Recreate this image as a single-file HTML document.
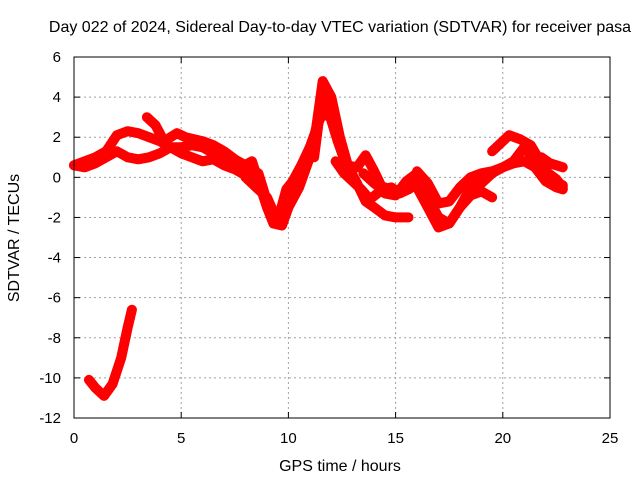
<!DOCTYPE html>
<html><head><meta charset="utf-8"><style>
body{margin:0;background:#fff}
svg{display:block;font-family:"Liberation Sans",sans-serif}
</style></head><body>
<svg id="chart" width="640" height="480">
<text x="340" y="32" text-anchor="middle" font-size="16">Day 022 of 2024, Sidereal Day-to-day VTEC variation (SDTVAR) for receiver pasa</text>
<text x="340" y="471" text-anchor="middle" font-size="16">GPS time / hours</text>
<text transform="translate(19,238) rotate(-90)" text-anchor="middle" font-size="16">SDTVAR / TECUs</text>
<g id="grid"></g><g id="series"></g><g id="axes"></g>
</svg>
<script>
const xTicks=[0,5,10,15,20,25];
const yTicks=[6,4,2,0,-2,-4,-6,-8,-10,-12];
const s1h=[0,0.5,1,1.5,2,2.5,3,3.5,4,4.5,5,5.5,6,6.5,7,7.5,8];
const s1v=[0.6,0.5,0.7,1.0,1.3,1.0,0.9,1.0,1.2,1.5,1.2,1.0,0.8,0.9,0.6,0.4,0.1];
const s2h=[0,0.5,1,1.5,2,2.5,3,3.5,4,4.5,5,5.5,6,6.5,7,7.5];
const s2v=[0.6,0.8,1.0,1.3,2.1,2.3,2.2,2.0,1.8,1.5,1.5,1.6,1.5,1.2,0.8,0.5];
const s3h=[3.4,3.8,4.2,4.8,5.2,6,6.5,7,7.5,8,8.4];
const s3v=[3.0,2.6,1.8,2.2,2.0,1.8,1.6,1.3,0.9,0.6,0.2];
const s4h=[7.8,8.3,8.7,9,9.3,9.7,10,10.5,11,11.3,11.6,12,12.4,12.8,13.2,13.6,14,14.5,15,15.6];
const s4v=[0.5,0.8,-0.5,-1.5,-2.3,-2.4,-1.5,-0.5,1,2.5,4.8,4,2,0.5,-0.3,-1.2,-1.5,-1.9,-2.0,-2.0];
const s5h=[8,8.5,9,9.5,10,10.5,11,11.5,11.9,12.3,12.7,13.2,13.6,14,14.5,15,15.5,16,16.5,17,17.5,18,18.5,19,19.5,20,20.5,21,21.5,22,22.5,22.8];
const s5v=[0,-0.5,-1,-2.2,-1,0,1.5,3,3.2,1.8,0.6,0.5,1.1,0.3,-0.8,-0.9,-0.2,0.2,-1,-2.0,-2.3,-1.5,-0.5,-0.3,0.2,0.5,0.8,1.5,0.8,0.3,-0.1,-0.5];
const s6h=[12.2,12.6,13,13.4,13.8,14.5,15,15.6,16,16.5,17,17.5,18,18.5,19,19.5];
const s6v=[0.8,0.2,-0.2,-0.6,-1.1,-0.5,-0.8,-0.3,-0.5,-1.5,-2.5,-2.3,-1.5,-0.9,-0.7,-1.0];
const s7h=[16,16.5,17,17.5,18,18.5,19,19.5,20,20.5,21,21.5,22,22.5,22.8];
const s7v=[0.3,-0.3,-1.3,-1.2,-0.5,0,0.2,0.3,0.5,0.7,0.8,0.5,-0.2,-0.5,-0.6];
const s8h=[19.5,20,20.3,20.8,21.3,21.8,22.3,22.8];
const s8v=[1.3,1.8,2.1,1.9,1.6,0.7,-0.1,-0.4];
const s9h=[21.8,22.2,22.5,22.8];
const s9v=[1.0,0.7,0.6,0.5];
const s10h=[0.7,1,1.4,1.8,2.2,2.5,2.7];
const s10v=[-10.1,-10.5,-10.9,-10.3,-9.0,-7.5,-6.6];
const s11h=[8.6,9,9.3,9.6,9.9,10.2,10.6,11];
const s11v=[0.2,-1.2,-2.0,-1.8,-0.6,-0.2,0.6,1.5];
const s12h=[11.2,11.5,11.8,12.1];
const s12v=[1.0,3.5,4.2,2.8];
const s13h=[13.5,14,14.4,14.8,15.2,15.6,16,16.4];
const s13v=[0.2,-0.3,-0.6,-0.5,-0.8,-0.6,-0.3,-0.8];
const seriesH=[s1h,s2h,s3h,s4h,s5h,s6h,s7h,s8h,s9h,s10h,s11h,s12h,s13h];
const seriesV=[s1v,s2v,s3v,s4v,s5v,s6v,s7v,s8v,s9v,s10v,s11v,s12v,s13v];
const X0=74,X1=610,Y0=57,Y1=418;
const xs=h=>X0+(h-0)/25*(X1-X0);
const ys=v=>Y0+(6-v)/18*(Y1-Y0);
const NS="http://www.w3.org/2000/svg";
function mk(tag,attrs,parent){const e=document.createElementNS(NS,tag);for(const k in attrs)e.setAttribute(k,attrs[k]);parent.appendChild(e);return e;}
const grid=document.getElementById('grid'),axes=document.getElementById('axes'),ser=document.getElementById('series');
xTicks.forEach(t=>{
 if(t>0&&t<25){const g=mk('line',{x1:xs(t),x2:xs(t),y1:Y0,y2:Y1,stroke:'#a0a0a0','stroke-dasharray':'2,3'},grid);
 
 }
 const l=mk('text',{x:xs(t),y:Y1+25,'text-anchor':'middle','font-size':15},axes);l.textContent=t;
 
 
 mk('line',{x1:xs(t),x2:xs(t),y1:Y1,y2:Y1-6,stroke:'#000'},axes);
 mk('line',{x1:xs(t),x2:xs(t),y1:Y0,y2:Y0+6,stroke:'#000'},axes);
});
yTicks.forEach(t=>{
 if(t<6&&t>-12){const g=mk('line',{x1:X0,x2:X1,y1:ys(t),y2:ys(t),stroke:'#a0a0a0','stroke-dasharray':'2,3'},grid);
 
 }
 const l=mk('text',{x:X0-13,y:ys(t)+5,'text-anchor':'end','font-size':15},axes);l.textContent=t;
 
 
 mk('line',{x1:X0,x2:X0+6,y1:ys(t),y2:ys(t),stroke:'#000'},axes);
 mk('line',{x1:X1,x2:X1-6,y1:ys(t),y2:ys(t),stroke:'#000'},axes);
});
const fr=mk('rect',{x:X0,y:Y0,width:X1-X0,height:Y1-Y0,fill:'none',stroke:'#000'},axes);


seriesH.forEach((hs,i)=>{
 const vs=seriesV[i];
 const pts=hs.map((h,j)=>xs(h).toFixed(1)+','+ys(vs[j]).toFixed(1)).join(' ');
 const p=mk('polyline',{points:pts,fill:'none',stroke:'#ff0000','stroke-width':10,'stroke-linejoin':'round','stroke-linecap':'round'},ser);
 
 
});
</script>
</body></html>
